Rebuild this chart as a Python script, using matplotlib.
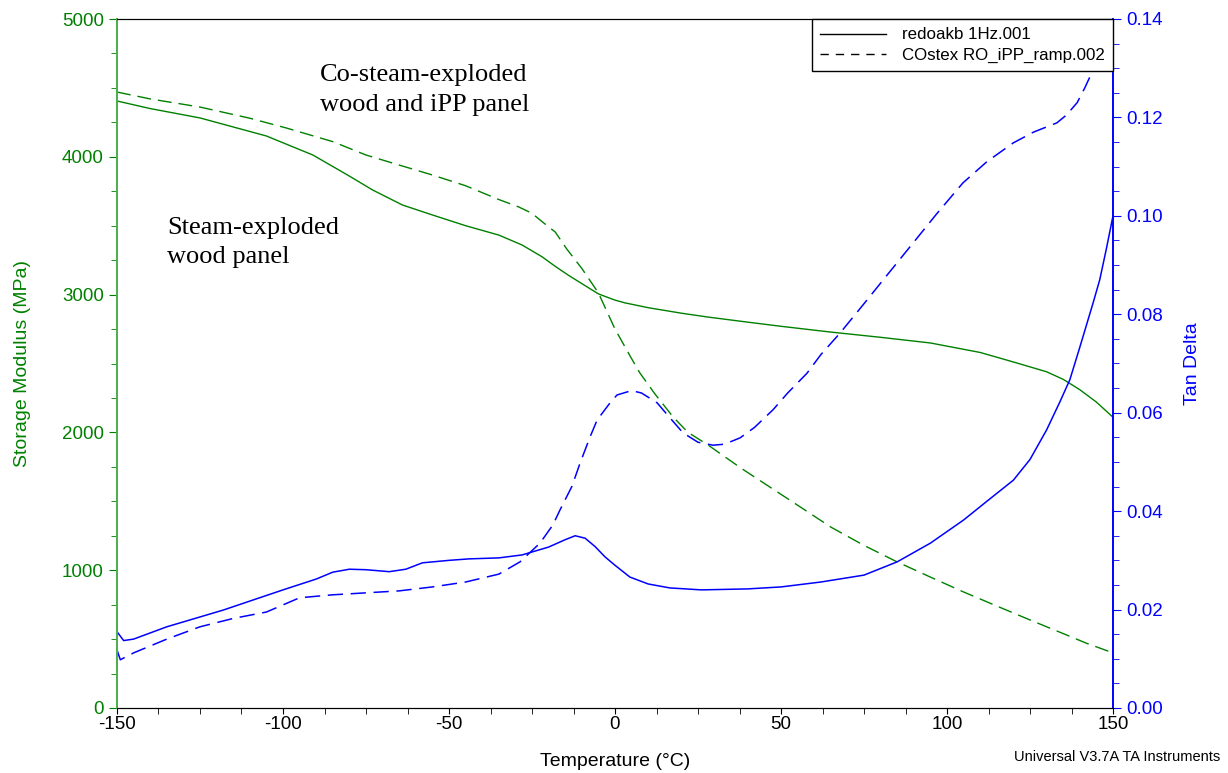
import numpy as np
import matplotlib
matplotlib.use("Agg")
import matplotlib.pyplot as plt
from matplotlib.lines import Line2D
from matplotlib.ticker import MultipleLocator, FormatStrFormatter

plt.rcParams['font.family'] = ['Liberation Sans', 'DejaVu Sans']
plt.rcParams['axes.unicode_minus'] = False

# ---------------- data ----------------
# storage modulus, steam-exploded wood panel (redoakb 1Hz.001)
temp_e1 = [-150, -140, -125, -105, -91, -80, -73, -64, -55, -45, -35, -28, -22, -18, -14,
           -10, -5, 0, 3, 10, 20, 28, 40, 50, 65, 80, 95, 110, 120, 130, 135, 140, 145, 150]
modulus_e1 = [4405, 4350, 4282, 4151, 4013, 3860, 3759, 3650, 3578, 3500, 3432, 3360, 3275,
              3205, 3140, 3080, 3005, 2960, 2940, 2905, 2865, 2837, 2800, 2770, 2728, 2690,
              2649, 2580, 2511, 2440, 2385, 2310, 2220, 2110]

# storage modulus, co-steam-exploded wood and iPP panel (COstex RO_iPP_ramp.002)
temp_e2 = [-150, -140, -125, -110, -99, -85, -75, -65, -55, -45, -35, -29, -25, -22, -18,
           -14.5, -10, -5, 0, 5, 7.5, 12, 17.5, 22, 28, 38, 48, 57, 65, 75, 85, 95, 105, 115,
           125, 135, 142, 150]
modulus_e2 = [4470, 4420, 4361, 4280, 4209, 4110, 4013, 3940, 3868, 3790, 3690, 3636, 3590,
              3530, 3454, 3330, 3190, 3012, 2750, 2535, 2431, 2280, 2112, 2000, 1909, 1740,
              1582, 1440, 1313, 1180, 1060, 950, 842, 740, 639, 540, 470, 400]

# tan delta, steam-exploded wood panel
temp_t1 = [-150, -148, -145, -135, -118, -100, -90, -85, -80, -75, -68, -63, -58, -50, -44,
           -35, -28, -20, -15, -12, -9, -6, -3, 0, 4.5, 10, 16.5, 26, 40, 50, 62, 75, 85, 95,
           105, 112, 120, 125, 130, 134, 137, 140, 142, 144, 146, 148, 150]
tand_t1 = [0.0155, 0.0137, 0.0140, 0.0165, 0.0199, 0.0240, 0.0262, 0.0276, 0.0282, 0.0281,
           0.0277, 0.0282, 0.0295, 0.0300, 0.0303, 0.0305, 0.0311, 0.0327, 0.0342, 0.0350,
           0.0345, 0.0328, 0.0307, 0.0290, 0.0266, 0.0252, 0.0244, 0.0240, 0.0242, 0.0246,
           0.0256, 0.0270, 0.0297, 0.0335, 0.0382, 0.0420, 0.0463, 0.0505, 0.0565, 0.0622,
           0.0667, 0.0733, 0.0778, 0.0823, 0.0870, 0.0933, 0.1000]

# tan delta, co-steam-exploded wood and iPP panel
temp_t2 = [-150, -149, -145, -135, -125, -115, -105, -95, -85, -75, -65, -55, -45, -35,
           -28.6, -22.6, -18.7, -16.6, -13, -10.5, -7.5, -5.4, -1.5, 0.6, 5, 8, 12.7, 16.5,
           20.5, 25, 29.5, 33, 37.7, 42, 47.6, 52, 57.8, 62, 67.8, 74.7, 82, 89.8, 97, 104.8,
           112, 119.9, 126, 133.1, 136, 139.2, 141.5, 143.7, 146, 148, 149.5]
tand_t2 = [0.0118, 0.0098, 0.0112, 0.0140, 0.0165, 0.0182, 0.0195, 0.0224, 0.0230, 0.0234,
           0.0238, 0.0246, 0.0256, 0.0272, 0.0297, 0.0335, 0.0372, 0.0402, 0.0450, 0.0498,
           0.0551, 0.0585, 0.0620, 0.0636, 0.0645, 0.0640, 0.0620, 0.0590, 0.0559, 0.0540,
           0.0534, 0.0536, 0.0549, 0.0570, 0.0606, 0.0640, 0.0680, 0.0718, 0.0762, 0.0819,
           0.0880, 0.0945, 0.1005, 0.1067, 0.1110, 0.1148, 0.1170, 0.1189, 0.1205, 0.1230,
           0.1260, 0.1292, 0.1340, 0.1380, 0.1420]

legend_labels = ["redoakb 1Hz.001", "COstex RO_iPP_ramp.002"]

green = "#008000"
blue = "#0000ff"
dash = (0, (10, 5))

# ---------------- figure ----------------
fig = plt.figure(figsize=(12.28, 7.73), dpi=100)
ax = fig.add_axes([117/1228, 1-708/773, (1113-117)/1228, (708-19)/773])
ax2 = ax.twinx()

ax.plot(temp_e1, modulus_e1, color=green, lw=1.0)
ax.plot(temp_e2, modulus_e2, color=green, lw=1.0, linestyle=dash)
ax2.plot(temp_t1, tand_t1, color=blue, lw=1.1)
ax2.plot(temp_t2, tand_t2, color=blue, lw=1.1, linestyle=dash)

ax.set_xlim(-150, 150)
ax.set_ylim(0, 5000)
ax2.set_ylim(0, 0.14)

# x axis
ax.xaxis.set_major_locator(MultipleLocator(50))
ax.xaxis.set_minor_locator(MultipleLocator(12.5))
ax.tick_params(axis='x', which='both', direction='out', colors='black', labelsize=13.5,
               top=False, pad=1.5)
ax.tick_params(axis='x', which='major', length=4.5)
ax.tick_params(axis='x', which='minor', length=4)

# left axis
ax.yaxis.set_major_locator(MultipleLocator(1000))
ax.yaxis.set_minor_locator(MultipleLocator(250))
ax.tick_params(axis='y', which='both', direction='out', color=green, labelcolor=green,
               labelsize=13.5)
ax.tick_params(axis='y', which='major', length=6)
ax.tick_params(axis='y', which='minor', length=4)

# right axis
ax2.yaxis.set_major_locator(MultipleLocator(0.02))
ax2.yaxis.set_minor_locator(MultipleLocator(0.005))
ax2.yaxis.set_major_formatter(FormatStrFormatter('%.2f'))
ax2.tick_params(axis='y', which='both', direction='out', color=blue, labelcolor=blue,
                labelsize=13.5)
ax2.tick_params(axis='y', which='major', length=6)
ax2.tick_params(axis='y', which='minor', length=4)

for a in (ax, ax2):
    a.spines['left'].set_color("#4caf50")
    a.spines['left'].set_linewidth(1.4)
    a.spines['right'].set_color(blue)
    a.spines['right'].set_linewidth(1.2)
    a.spines['top'].set_color('black')
    a.spines['bottom'].set_color('black')

ax.set_xlabel("Temperature (°C)", fontsize=14, labelpad=14)
ax.set_ylabel("Storage Modulus (MPa)", fontsize=14, color=green, labelpad=22)
ax2.set_ylabel("Tan Delta", fontsize=14, color=blue, labelpad=15)

# annotations
ax.text(-89, 4670, "Co-steam-exploded\nwood and iPP panel", family='Liberation Serif',
        fontsize=19, ha='left', va='top', linespacing=1.45)
ax.text(-135, 3565, "Steam-exploded\nwood panel", family='Liberation Serif',
        fontsize=19, ha='left', va='top', linespacing=1.45)

# legend
handles = [Line2D([], [], color='black', lw=1.0),
           Line2D([], [], color='black', lw=1.0, linestyle=(0, (6, 5)))]
leg = ax2.legend(handles, legend_labels, loc='upper right', bbox_to_anchor=(1.0, 1.0),
                 borderaxespad=0, fancybox=False, framealpha=1, edgecolor='black',
                 fontsize=12.2, handlelength=3.9, handletextpad=0.9, borderpad=0.5,
                 labelspacing=0.3)
leg.get_frame().set_linewidth(1.0)
leg.set_zorder(10)

fig.text(1220/1228, 1-757/773, "Universal V3.7A TA Instruments", fontsize=10.5,
         ha='right', va='center')

fig.savefig("out.png", dpi=100)
